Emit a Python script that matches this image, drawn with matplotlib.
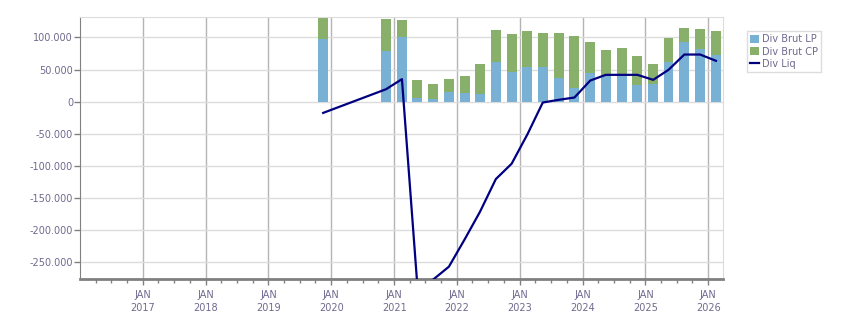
import datetime as dt
import matplotlib
matplotlib.use("Agg")
import matplotlib.pyplot as plt
import matplotlib.dates as mdates
from matplotlib.ticker import FuncFormatter, FixedLocator

# quarterly data (dates of each bar / line point)
periods = [
    "2019-11", "2020-11", "2021-02", "2021-05", "2021-08", "2021-11",
    "2022-02", "2022-05", "2022-08", "2022-11", "2023-02", "2023-05",
    "2023-08", "2023-11", "2024-02", "2024-05", "2024-08", "2024-11",
    "2025-02", "2025-05", "2025-08", "2025-11", "2026-02",
]
div_brut_lp = [
    98000, 79200, 101100, 5800, 4200, 15600,
    13600, 12500, 62500, 46900, 54200, 54200,
    37500, 21900, 44800, 41700, 41700, 26100,
    28100, 62500, 93300, 82300, 73000,
]
div_brut_cp = [
    40000, 50000, 26600, 28100, 23500, 19900,
    26600, 46900, 49500, 57800, 56300, 53100,
    69800, 80800, 48500, 39100, 42200, 45300,
    30800, 37000, 21900, 31300, 37500,
]
div_liq = [
    -17700, 19300, 35000, -285000, -278000, -257800,
    -215000, -172000, -121000, -97000, -51000, -1500,
    2700, 6300, 32800, 41700, 41700, 41700,
    33900, 49500, 73400, 73400, 63600,
]
years = list(range(2017, 2027))
y_ticks = [-250000, -200000, -150000, -100000, -50000, 0, 50000, 100000]

blue = "#78b1d4"
green = "#89b06a"
navy = "#000080"
txt = "#6e6a8e"

dates = [dt.datetime.strptime(p + "-15", "%Y-%m-%d") for p in periods]

fig = plt.figure(figsize=(8.51, 3.13), dpi=100)
ax = fig.add_axes([0.094, 0.1086, 0.7556, 0.8371])

b1 = ax.bar(dates, div_brut_lp, width=58, color=blue, label="Div Brut LP", zorder=2)
b2 = ax.bar(dates, div_brut_cp, width=58, bottom=div_brut_lp, color=green,
            label="Div Brut CP", zorder=2)
l1, = ax.plot(dates, div_liq, color=navy, lw=1.6, label="Div Liq", zorder=3)

ax.set_xlim(dt.datetime(2016, 1, 1), dt.datetime(2026, 3, 28))
ax.set_ylim(-277000, 132000)

# x axis: major at january, minor quarterly
major = [mdates.date2num(dt.datetime(y, 1, 1)) for y in years]
minor = []
for y in range(2016, 2027):
    for m in (4, 7, 10):
        minor.append(mdates.date2num(dt.datetime(y, m, 1)))
ax.xaxis.set_major_locator(FixedLocator(major))
ax.xaxis.set_minor_locator(FixedLocator(minor))
ax.set_xticklabels([f"JAN\n{y}" for y in years])

ax.yaxis.set_major_locator(FixedLocator(y_ticks))
ax.yaxis.set_major_formatter(FuncFormatter(lambda v, p: f"{int(v):,}".replace(",", ".")))

ax.tick_params(axis="x", which="major", length=4, width=1, color="#808080",
               labelsize=7, labelcolor=txt, pad=4)
ax.tick_params(axis="x", which="minor", length=3, width=1, color="#808080")
ax.tick_params(axis="y", length=4, width=1, color="#808080",
               labelsize=7, labelcolor=txt, pad=1)
for lab in ax.get_xticklabels():
    lab.set_linespacing(1.35)

ax.grid(axis="y", color="#dcdcdc", lw=1, zorder=0)
ax.grid(axis="x", which="major", color="#b4b4b4", lw=1, zorder=0)
ax.set_axisbelow(True)

ax.spines["left"].set_color("#808080")
ax.spines["bottom"].set_color("#808080")
ax.spines["bottom"].set_linewidth(2)
ax.spines["top"].set_color("#dcdcdc")
ax.spines["right"].set_color("#dcdcdc")

leg = ax.legend([b1, b2, l1], ["Div Brut LP", "Div Brut CP", "Div Liq"],
                loc="upper left", bbox_to_anchor=(0.8774, 0.902),
                bbox_transform=fig.transFigure, fontsize=7, fancybox=False,
                edgecolor="#dcdcdc", framealpha=1, handlelength=0.9,
                handleheight=0.9, handletextpad=0.3, borderpad=0.35,
                labelspacing=0.25, borderaxespad=0)
for t in leg.get_texts():
    t.set_color(txt)
leg.get_frame().set_linewidth(1)

fig.savefig("out.png", dpi=100)
